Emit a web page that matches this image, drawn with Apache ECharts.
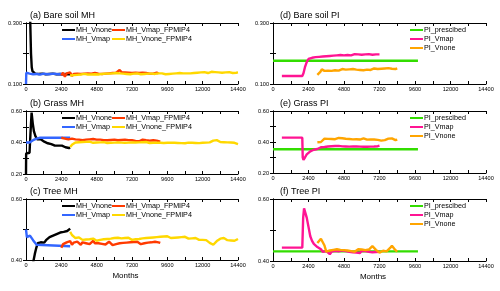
<!DOCTYPE html>
<html><head><meta charset="utf-8">
<script src="https://cdn.jsdelivr.net/npm/echarts@6/dist/echarts.min.js"></script>
<style>html,body{margin:0;padding:0;background:#fff}#c{width:500px;height:291px}</style>
</head><body><div id="c"></div>
<script>
// ---------- DATA ----------
const xTickLabels = [0, 2400, 4800, 7200, 9600, 12000, 14400];
const panelTitles = ['(a) Bare soil MH', '(b) Grass MH', '(c) Tree MH', '(d) Bare soil PI', '(e) Grass PI', '(f) Tree PI'];
const mhNames = ['MH_Vnone', 'MH_Vmap', 'MH_Vmap_FPMIP4', 'MH_Vnone_FPMIP4'];
const piNames = ['PI_prescibed', 'PI_Vmap', 'PI_Vnone'];
const xLabel = 'Months';

// (a) Bare soil MH
const aVnone = [[250,0.42],[290,0.30],[340,0.20],[390,0.155],[440,0.142],[500,0.136],[620,0.134],[860,0.133],[1100,0.134],[1340,0.132],[1580,0.133],[1820,0.134],[2060,0.132],[2300,0.133],[2540,0.132],[2780,0.133],[3000,0.132]];
const aVmap = [[0,0.10],[20,0.137],[240,0.134],[480,0.132],[720,0.133],[960,0.131],[1200,0.134],[1440,0.132],[1680,0.133],[1920,0.134],[2160,0.132],[2400,0.133],[2640,0.132]];
const aVmapFP = [0.128,0.137,0.124,0.135,0.129,0.138,0.126,0.133,0.130,0.134,0.131,
  0.133,0.130,0.134,0.132,0.135,0.131,0.134,0.133,0.136,0.132,
  0.134,0.136,0.133,0.135,0.134,0.137,0.135,0.134,0.136,0.135,
  0.137,0.140,0.146,0.139,0.136,0.138,0.135,0.137,0.134,0.136,
  0.135,0.137,0.134,0.136,0.135,0.137,0.134,0.136,0.135,0.134,
  0.136,0.134,0.135,0.137,0.135]; // from 2400, every 120
const aVnoneFP = [0.128,0.131,0.129,0.132,0.130,0.133,0.131,0.130,0.133,0.132,0.131,
  0.133,0.131,0.134,0.132,0.133,0.131,0.134,0.133,0.132,0.134,
  0.132,0.134,0.133,0.135,0.133,0.136,0.134,0.135,0.133,0.134,
  0.135,0.133,0.134,0.132,0.135,0.134,0.133,0.135,0.134,0.132,
  0.134,0.133,0.135,0.134,0.132,0.134,0.135,0.133,0.134,0.135,
  0.133,0.135,0.134,0.132,0.134,0.133,0.135,0.134,0.133,0.135,
  0.134,0.136,0.134,0.135,0.133,0.135,0.137,0.135,0.134,0.136,
  0.135,0.137,0.135,0.138,0.136,0.139,0.137,0.136,0.138,0.140,
  0.137,0.139,0.136,0.138,0.140,0.137,0.136,0.138,0.137,0.139,
  0.137,0.136,0.138,0.137,0.138]; // from 3000, every 120

// (b) Grass MH
const bVnone = [[0,0.20],[10,0.33],[120,0.33],[240,0.335],[300,0.45],[380,0.59],[460,0.52],[540,0.47],[640,0.44],[760,0.42],[880,0.415],[1000,0.42],[1120,0.41],[1240,0.405],[1360,0.40],[1480,0.395],[1600,0.39],[1720,0.39],[1840,0.385],[1960,0.38],[2080,0.385],[2200,0.38],[2320,0.375],[2440,0.38],[2560,0.375],[2680,0.37],[2800,0.372],[2920,0.365],[3000,0.368]];
const bVmap = [[0,0.40],[120,0.405],[240,0.40],[360,0.41],[480,0.415],[600,0.42],[720,0.425],[840,0.43],[960,0.43],[3000,0.43]];
const bVmapFP = [0.43,0.42,0.425,0.415,0.42,0.41,0.425,0.415,0.42,0.412,0.418,
  0.42,0.415,0.425,0.418,0.412,0.42,0.416,0.422,0.414,0.418,
  0.412,0.418,0.41,0.415,0.408,0.414,0.41,0.416,0.412,0.418,
  0.42,0.414,0.422,0.416,0.41,0.418,0.412,0.415,0.41,0.414,
  0.416,0.41,0.414,0.408,0.412,0.418,0.41,0.414,0.409,0.412,
  0.41,0.414,0.408,0.412,0.41,0.406]; // from 2400, every 120
const bVnoneFP = [0.372,0.385,0.395,0.40,0.405,0.402,0.406,0.403,0.407,0.404,0.401,
  0.405,0.402,0.398,0.403,0.40,0.404,0.401,0.397,0.402,0.40,
  0.397,0.401,0.398,0.402,0.399,0.396,0.40,0.403,0.399,0.401,
  0.398,0.402,0.399,0.396,0.40,0.403,0.40,0.397,0.401,0.398,
  0.402,0.399,0.403,0.40,0.397,0.401,0.398,0.402,0.399,0.396,
  0.398,0.394,0.397,0.395,0.398,0.396,0.399,0.396,0.398,0.395,
  0.397,0.399,0.396,0.398,0.395,0.397,0.399,0.396,0.398,0.40,
  0.397,0.399,0.396,0.40,0.398,0.401,0.399,0.403,0.401,0.405,
  0.412,0.42,0.415,0.408,0.403,0.40,0.402,0.398,0.401,0.403,
  0.40,0.404,0.398,0.396,0.39]; // from 3000, every 120

// (c) Tree MH
const cVnone = [[480,0.39],[520,0.40],[600,0.42],[700,0.44],[800,0.455],[900,0.452],[1000,0.458],[1120,0.46],[1240,0.457],[1360,0.465],[1480,0.468],[1600,0.475],[1720,0.472],[1840,0.48],[1960,0.477],[2080,0.485],[2200,0.482],[2320,0.49],[2440,0.486],[2560,0.492],[2680,0.489],[2800,0.495],[2920,0.497],[3000,0.503]];
const cVmap = [[0,0.50],[60,0.475],[150,0.472],[270,0.48],[360,0.476],[480,0.465],[600,0.46],[720,0.45],[840,0.445],[3000,0.445]];
const cVmapFP = [0.44,0.452,0.448,0.458,0.455,0.462,0.45,0.457,0.453,0.46,0.455,
  0.45,0.458,0.462,0.455,0.46,0.452,0.457,0.463,0.455,0.459,
  0.455,0.46,0.453,0.458,0.451,0.456,0.46,0.454,0.449,0.455,
  0.452,0.458,0.455,0.45,0.456,0.461,0.457,0.462,0.458,0.454,
  0.459,0.455,0.46,0.456,0.452,0.458,0.455,0.461,0.457,0.453,
  0.458,0.454,0.46,0.455,0.458,0.456]; // from 2400, every 120
const cVnoneFP = [0.492,0.482,0.476,0.472,0.468,0.474,0.47,0.466,0.471,0.467,0.463,
  0.468,0.465,0.47,0.467,0.463,0.469,0.466,0.471,0.468,0.472,
  0.469,0.474,0.47,0.476,0.472,0.478,0.473,0.476,0.471,0.475,
  0.472,0.468,0.473,0.47,0.466,0.471,0.468,0.472,0.469,0.474,
  0.471,0.475,0.472,0.476,0.473,0.477,0.474,0.471,0.475,0.472,
  0.476,0.473,0.477,0.474,0.478,0.475,0.472,0.476,0.473,0.477,
  0.474,0.478,0.475,0.472,0.476,0.473,0.47,0.474,0.471,0.468,
  0.472,0.469,0.466,0.47,0.466,0.462,0.465,0.46,0.456,0.452,
  0.45,0.455,0.462,0.466,0.47,0.468,0.472,0.469,0.465,0.468,
  0.464,0.467,0.463,0.466,0.469]; // from 3000, every 120

// (d) Bare soil PI
const dPresc = [[0,0.176],[9800,0.176]];
const dVmapHead = [[600,0.126],[1980,0.126],[2060,0.135],[2160,0.155],[2280,0.172],[2400,0.182],[2520,0.186]];
const dVmapTail = [0.186,0.19,0.188,0.192,0.189,0.193,0.19,0.194,0.191,0.195,
  0.192,0.196,0.193,0.197,0.194,0.198,0.195,0.197,0.194,0.198,
  0.195,0.197,0.194,0.196,0.198,0.195,0.197,0.193,0.196,0.194,
  0.197,0.195,0.198,0.194,0.196,0.193,0.197,0.195,0.197]; // from 2640, every 120
const dVnoneHead = [[3000,0.13],[3120,0.128],[3200,0.14],[3300,0.148]];
const dVnoneTail = [0.146,0.143,0.147,0.144,0.146,0.143,0.147,0.145,0.148,0.144,
  0.146,0.149,0.145,0.147,0.144,0.148,0.146,0.149,0.145,0.147,
  0.15,0.146,0.148,0.145,0.149,0.147,0.15,0.146,0.148,0.151,
  0.147,0.149,0.146,0.15,0.148,0.151,0.149,0.152,0.148,0.15,
  0.152,0.149,0.151]; // from 3360, every 120

// (e) Grass PI
const ePresc = [[0,0.353],[9800,0.353]];
const eVmapHead = [[600,0.428],[1980,0.428],[2010,0.30],[2060,0.285],[2160,0.30],[2280,0.32],[2400,0.33],[2520,0.34],[2640,0.345],[2760,0.35],[2880,0.352],[3000,0.355]];
const eVmapTail = [0.362,0.366,0.37,0.368,0.374,0.371,0.376,0.373,0.378,0.374,
  0.371,0.375,0.369,0.372,0.367,0.371,0.366,0.37,0.367,0.371,
  0.368,0.372,0.366,0.37,0.367,0.369,0.365,0.369,0.366,0.37,
  0.367,0.371,0.368,0.373,0.376]; // from 3120, every 120
const eVnone = [0.398,0.395,0.40,0.41,0.422,0.426,0.42,0.424,0.419,0.423,
  0.418,0.422,0.426,0.42,0.424,0.418,0.421,0.425,0.419,0.423,
  0.417,0.421,0.418,0.422,0.416,0.42,0.424,0.419,0.415,0.42,
  0.417,0.421,0.416,0.42,0.414,0.418,0.409,0.406,0.412,0.418,
  0.422,0.419,0.423,0.418,0.412,0.416]; // from 3000, every 120

// (f) Tree PI
const fPresc = [[0,0.431],[9800,0.431]];
const fVmapHead = [[600,0.443],[1980,0.443],[2040,0.54],[2100,0.57],[2180,0.565],[2280,0.54],[2400,0.51],[2520,0.48],[2640,0.465],[2760,0.455],[2880,0.45],[3000,0.445],[3120,0.44],[3240,0.438]];
const fVmapTail = [0.43,0.424,0.432,0.426,0.422,0.43,0.425,0.433,0.427,0.431,
  0.426,0.434,0.428,0.432,0.426,0.43,0.435,0.428,0.432,0.427,
  0.431,0.426,0.433,0.428,0.432,0.436,0.43,0.434,0.428,0.432,
  0.429,0.433,0.43]; // from 3360, every 120
const fVnone = [0.458,0.462,0.472,0.474,0.45,0.43,0.428,0.434,0.43,0.436,
  0.432,0.438,0.433,0.436,0.431,0.435,0.44,0.434,0.438,0.432,
  0.436,0.43,0.435,0.438,0.433,0.437,0.431,0.435,0.432,0.437,
  0.442,0.448,0.444,0.436,0.43,0.427,0.429,0.433,0.436,0.431,
  0.435,0.442,0.449,0.444,0.435,0.43]; // from 3000, every 120

// ---------- BUILD ----------
const seq = (start, step, vals) => vals.map((v, i) => [start + i * step, v]);
const colMH = ['#000000', '#3366ff', '#ff3a00', '#ffd800'];
const colPI = ['#33dd00', '#ff1493', '#ffa500'];

const panels = [
  { grid:{left:26, top:23, width:212, height:61}, y:[0.1,0.3], dec:3, odd:true, names:mhNames, cols:colMH,
    data:[aVnone, aVmap, seq(2400,120,aVmapFP), seq(3000,120,aVnoneFP)] },
  { grid:{left:26, top:111, width:212, height:63}, y:[0.2,0.6], dec:2, odd:false, names:mhNames, cols:colMH,
    data:[bVnone, bVmap, seq(2400,120,bVmapFP), seq(3000,120,bVnoneFP)] },
  { grid:{left:26, top:199, width:212, height:61}, y:[0.4,0.6], dec:2, odd:false, names:mhNames, cols:colMH,
    data:[cVnone, cVmap, seq(2400,120,cVmapFP), seq(3000,120,cVnoneFP)] },
  { grid:{left:273, top:23, width:213, height:61}, y:[0.1,0.3], dec:3, odd:true, names:piNames, cols:colPI,
    data:[dPresc, dVmapHead.concat(seq(2640,120,dVmapTail)), dVnoneHead.concat(seq(3360,120,dVnoneTail))] },
  { grid:{left:273, top:111, width:213, height:62}, y:[0.2,0.6], dec:2, odd:false, names:piNames, cols:colPI,
    data:[ePresc, eVmapHead.concat(seq(3120,120,eVmapTail)), seq(3000,120,eVnone)] },
  { grid:{left:273, top:199, width:213, height:62}, y:[0.4,0.6], dec:2, odd:false, names:piNames, cols:colPI,
    data:[fPresc, fVmapHead.concat(seq(3360,120,fVmapTail)), seq(3000,120,fVnone)] }
];

const FONT = 'Liberation Sans, Arial, Helvetica, sans-serif';
const grid = [], xAxis = [], yAxis = [], series = [], title = [], legend = [];
const tickStyle = { show:true, inside:true, length:3, lineStyle:{color:'#000', width:1} };
const lineStyleAx = { show:true, lineStyle:{color:'#000', width:1} };

panels.forEach((p, i) => {
  grid.push(p.grid);
  const isBottom = (i === 2 || i === 5);
  const xBase = { type:'value', gridIndex:i, min:xTickLabels[0], max:xTickLabels[xTickLabels.length-1], interval:1200,
    splitLine:{show:false}, axisLine:lineStyleAx, axisTick:tickStyle };
  xAxis.push(Object.assign({}, xBase, { position:'bottom',
    axisLabel:{ show:true, fontFamily:FONT, fontSize:5.6, color:'#000', margin:2,
      formatter: v => (xTickLabels.indexOf(v) >= 0 ? String(v) : '') },
    name: isBottom ? xLabel : '', nameLocation:'middle', nameGap:12,
    nameTextStyle:{ fontFamily:FONT, fontSize:8, color:'#000', padding:[0,13,0,0] } }));
  xAxis.push(Object.assign({}, xBase, { position:'top', axisLabel:{show:false} }));
  const yBase = { type:'value', gridIndex:i, min:p.y[0], max:p.y[1], interval:0.1,
    splitLine:{show:false}, axisLine:lineStyleAx, axisTick:tickStyle };
  yAxis.push(Object.assign({}, yBase, { position:'left',
    axisLabel:{ show:true, fontFamily:FONT, fontSize:5.6, color:'#000', margin:4,
      formatter: v => { const k = Math.round(v * 10); return ((k % 2 === 1) === p.odd) ? v.toFixed(p.dec) : ''; } } }));
  yAxis.push(Object.assign({}, yBase, { position:'right', axisLabel:{show:false} }));

  p.data.forEach((d, j) => {
    series.push({ type:'line', name:p.names[j], xAxisIndex:2*i, yAxisIndex:2*i, data:d,
      showSymbol:false, symbol:'none', clip:true, animation:false,
      lineStyle:{ color:p.cols[j], width:2.4 }, itemStyle:{ color:p.cols[j] } });
  });

  const left = i < 3;
  title.push({ text:panelTitles[i], left:p.grid.left + (left ? 4 : 7), top:p.grid.top - 12,
    padding:0, textStyle:{ fontFamily:FONT, fontSize:9, fontWeight:'normal', color:'#000' } });

  // legends: one per item
  p.names.forEach((nm, j) => {
    let lx, ly;
    if (left) { lx = 62 + (j >= 2 ? 50 : 0); ly = p.grid.top + 7 + (j % 2) * 9; }
    else { lx = 410; ly = p.grid.top + 7 + j * 9; }
    legend.push({ data:[nm], left:lx, top:ly - 7.5, padding:0, itemWidth:13, itemHeight:2,
      icon:'rect', selectedMode:false, itemStyle:{color:p.cols[j]},
      textStyle:{ fontFamily:FONT, fontSize:7.2, color:'#000', lineHeight:9, padding:[0,0,6,-4] } });
  });
});

const chart = echarts.init(document.getElementById('c'), null, { renderer:'canvas' });
chart.setOption({ animation:false, backgroundColor:'#fff', grid, xAxis, yAxis, series, title, legend });
</script></body></html>
